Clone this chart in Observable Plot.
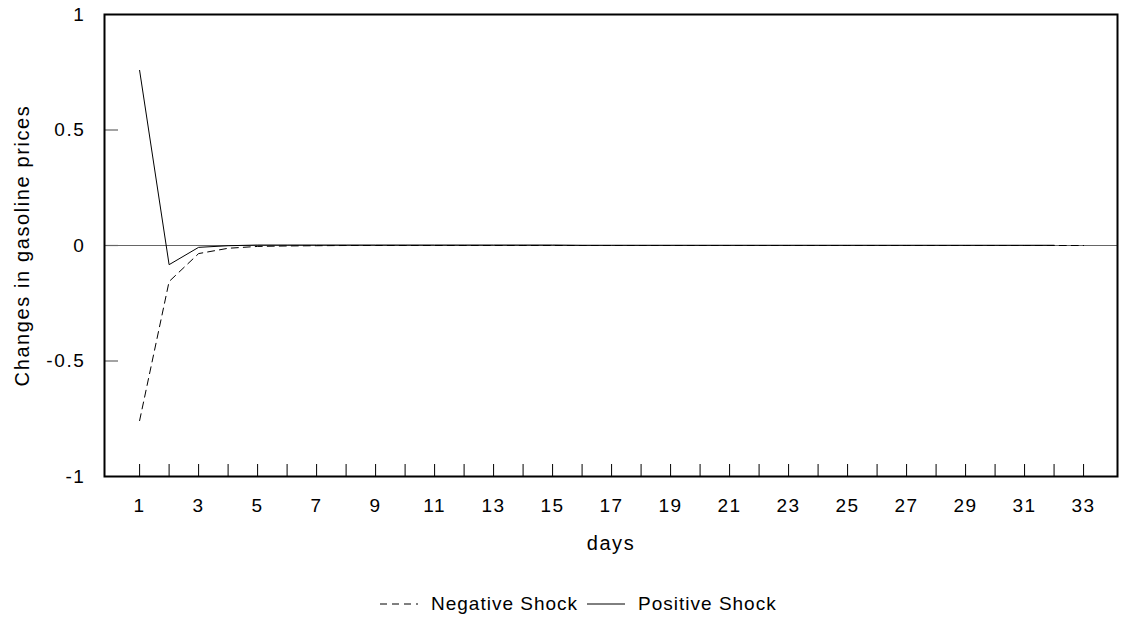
<!DOCTYPE html>
<html>
<head>
<meta charset="utf-8">
<script src="https://cdn.jsdelivr.net/npm/d3@7"></script>
<script src="https://cdn.jsdelivr.net/npm/@observablehq/plot@0.6"></script>
<style>
  body { margin: 0; background: #fff; font-family: "Liberation Sans", Arial, sans-serif; }
  #legend { display: flex; align-items: center; height: 30px; margin-top: 19px; padding-left: 380px; font-size: 19px; letter-spacing: 1px; color: #000; }
  #legend span { margin: 0 9px 0 13px; }
  svg text { letter-spacing: 1.6px; }
</style>
</head>
<body>
<div id="chart"></div>
<div id="legend"></div>
<script>
const days = d3.range(1, 34);
const positiveShock = [0.758, -0.083, -0.008, -0.001, 0.002, 0.002, 0.002, 0.002, 0.002, 0.002,
  0.002, 0.002, 0.002, 0.002, 0.002, 0.001, 0.001, 0.001, 0.001, 0.001,
  0.001, 0.001, 0.001, 0.001, 0.001, 0.001, 0.001, 0.001, 0.001, 0.001,
  0.001, 0.001];
const negativeShock = [-0.758, -0.156, -0.035, -0.012, -0.004, -0.002, -0.001, 0, 0, 0,
  0, 0, 0, 0, 0, 0, 0, 0, 0, 0,
  0, 0, 0, 0, 0, 0, 0, 0, 0, 0,
  0, 0, 0];
const xTickLabels = d3.range(1, 34, 2);
const yTicks = [-1, -0.5, 0, 0.5, 1];
const yInnerTicks = [-0.5, 0, 0.5];

const posData = positiveShock.map((v, i) => ({day: days[i], value: v}));
const negData = negativeShock.map((v, i) => ({day: days[i], value: v}));

const W = 1123, H = 570;
const mL = 104, mR = 6, mT = 14, mB = 94;
const plotW = W - mL - mR, plotH = H - mT - mB;

const chart = Plot.plot({
  width: W,
  height: H,
  marginLeft: mL,
  marginRight: mR,
  marginTop: mT,
  marginBottom: mB,
  style: {fontFamily: '"Liberation Sans", Arial, sans-serif', fontSize: "19px", color: "#000", background: "#fff"},
  x: {domain: [-0.19, 34.15]},
  y: {domain: [-1, 1]},
  marks: [
    Plot.ruleY([0], {stroke: "#666", strokeWidth: 1.2}),
    Plot.line(negData, {x: "day", y: "value", stroke: "#000", strokeWidth: 1, strokeDasharray: "7,5"}),
    Plot.line(posData, {x: "day", y: "value", stroke: "#000", strokeWidth: 1}),
    Plot.tickX(days, {x: d => d, stroke: "#000", strokeWidth: 1, insetTop: plotH - 12}),
    Plot.tickY(yInnerTicks, {y: d => d, stroke: "#666", strokeWidth: 1.2, insetRight: plotW - 14}),
    Plot.axisX(xTickLabels, {tickSize: 0, tickPadding: 22, fontSize: 19, label: null}),
    Plot.axisY(yTicks, {tickSize: 0, tickPadding: 19, fontSize: 19, label: null, tickFormat: d => String(d)}),
    Plot.text(["days"], {frameAnchor: "bottom", dy: 73, fontSize: 20}),
    Plot.text(["Changes in gasoline prices"], {frameAnchor: "left", textAnchor: "middle", dx: -82, rotate: -90, fontSize: 20}),
    Plot.frame({stroke: "#000", strokeWidth: 2})
  ]
});
document.getElementById("chart").appendChild(chart);

const legend = document.getElementById("legend");
const items = [
  {label: "Negative Shock", dash: "7,5"},
  {label: "Positive Shock", dash: null}
];
items.forEach(it => {
  const svg = d3.create("svg").attr("width", 38).attr("height", 10);
  svg.append("line").attr("x1", 0).attr("x2", 38).attr("y1", 5).attr("y2", 5)
    .attr("stroke", "#000").attr("stroke-width", 1).attr("stroke-dasharray", it.dash);
  legend.appendChild(svg.node());
  const s = document.createElement("span");
  s.textContent = it.label;
  legend.appendChild(s);
});
</script>
</body>
</html>
